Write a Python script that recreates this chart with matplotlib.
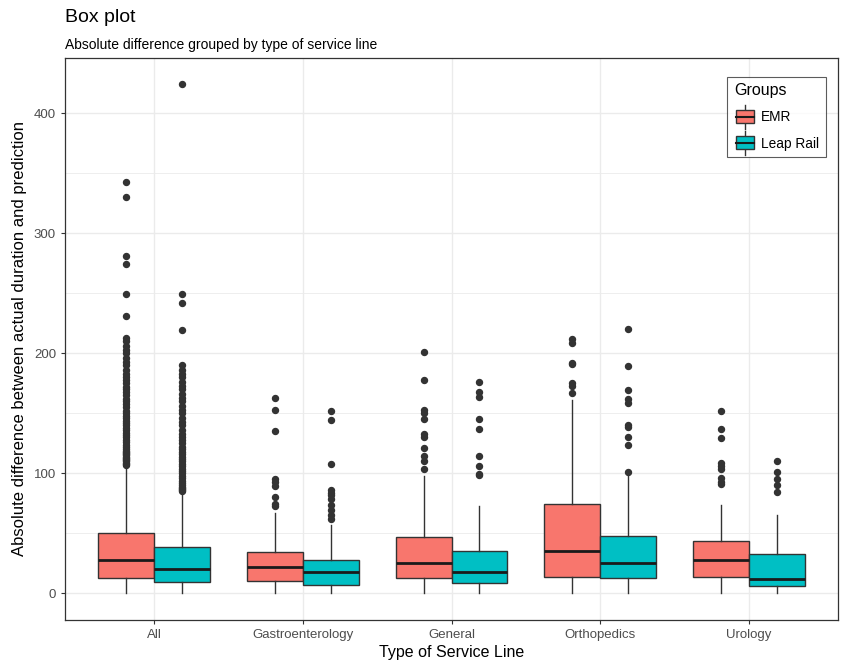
import matplotlib
matplotlib.use("Agg")
import matplotlib.pyplot as plt
from matplotlib.patches import Rectangle
from matplotlib.lines import Line2D
from matplotlib.legend_handler import HandlerBase

plt.rcParams['font.family'] = ['Liberation Sans', 'DejaVu Sans']

categories = ["All", "Gastroenterology", "General", "Orthopedics", "Urology"]
groups = ["EMR", "Leap Rail"]
colors = ["#F8766D", "#00BFC4"]

# per category: (whislo, q1, med, q3, whishi)
emr_stats = [
    (0, 12.5, 27.8, 50.0, 106),
    (0, 10.5, 21.9, 34.7, 67),
    (0, 12.5, 25.5, 47.2, 98),
    (0, 13.3, 35.5, 74.2, 161),
    (0, 13.3, 27.5, 43.6, 74),
]
leap_stats = [
    (0, 9.2, 20.2, 38.3, 84),
    (0, 7.2, 17.5, 27.5, 57),
    (0, 8.3, 17.8, 35.5, 73),
    (0, 13.0, 25.5, 47.8, 100),
    (0, 6.3, 12.2, 32.8, 65),
]
emr_fliers = [
    [107, 108, 109, 110, 111, 112, 113, 114, 115, 116, 117, 118, 119, 120, 122, 124,
     126, 128, 130, 132, 134, 136, 138, 140, 142, 144, 146, 148, 150, 152, 155, 158,
     160, 162, 165, 168, 170, 172, 175, 178, 180, 183, 186, 190, 193, 196, 200, 203,
     206, 210, 213, 231, 249, 274, 281, 330, 343],
    [72.7, 74.4, 80.5, 89.4, 93, 95.5, 135.5, 153, 163],
    [104, 110.5, 114.4, 121.4, 130, 132.8, 145, 150, 152.8, 178, 201.3],
    [166.7, 172.8, 175.5, 191, 192.2, 208.3, 211.7],
    [90.8, 93, 95.8, 103.3, 106, 108.8, 129.4, 137.2, 151.7],
]
leap_fliers = [
    [85, 86, 87, 88, 89, 90, 92, 94, 96, 98, 100, 102, 104, 106, 108, 110, 112, 114,
     116, 118, 120, 122, 125, 128, 130, 133, 136, 140, 143, 146, 150, 153, 156, 160,
     163, 166, 170, 173, 176, 180, 183, 186, 190, 219, 242, 249, 424],
    [62, 65, 69.4, 73.6, 79, 82, 84, 86, 108, 144.4, 152],
    [98.6, 99.6, 106.3, 114.4, 136.6, 145.3, 163.3, 168, 176.3],
    [101.3, 123.3, 130, 138.3, 140, 158.9, 161.6, 169.4, 189, 220],
    [84.7, 90.3, 95.5, 101, 110],
]

W, H = 843, 664
fig = plt.figure(figsize=(W / 100, H / 100), dpi=100)
ax = fig.add_axes([65 / W, 1 - 620 / H, (838 - 65) / W, (620 - 58) / H])

edge = "#333333"
for g, (stats_list, fl_list) in enumerate([(emr_stats, emr_fliers), (leap_stats, leap_fliers)]):
    bstats = []
    for (lo, q1, med, q3, hi), fl in zip(stats_list, fl_list):
        bstats.append(dict(whislo=lo, q1=q1, med=med, q3=q3, whishi=hi, fliers=fl))
    offset = -0.1875 if g == 0 else 0.1875
    pos = [i + 1 + offset for i in range(len(categories))]
    ax.bxp(bstats, positions=pos, widths=0.375, patch_artist=True,
           showcaps=False, manage_ticks=False,
           boxprops=dict(facecolor=colors[g], edgecolor=edge, linewidth=1.0),
           medianprops=dict(color="#1a1a1a", linewidth=2.0),
           whiskerprops=dict(color=edge, linewidth=1.0),
           flierprops=dict(marker='o', markerfacecolor=edge, markeredgecolor=edge,
                           markersize=4.3, linestyle='none'),
           zorder=3)

ax.set_xlim(0.4, 5.6)
ax.set_ylim(-22.2, 446)
ax.set_xticks(range(1, len(categories) + 1))
ax.set_xticklabels(categories)
ax.set_yticks([0, 100, 200, 300, 400])
ax.set_yticks([50, 150, 250, 350], minor=True)
ax.grid(True, which='major', color="#EBEBEB", linewidth=1.0, zorder=0)
ax.grid(True, which='minor', axis='y', color="#EBEBEB", linewidth=0.6, zorder=0)
ax.set_axisbelow(True)
ax.tick_params(axis='both', which='major', colors="#333333", labelcolor="#4D4D4D",
               labelsize=9.5, length=3, width=0.8)
ax.tick_params(axis='y', which='minor', length=0)
for s in ax.spines.values():
    s.set_color("#333333")
    s.set_linewidth(0.9)

ax.set_xlabel("Type of Service Line", fontsize=11.5, labelpad=3)
ax.set_ylabel("Absolute difference between actual duration and prediction", fontsize=12, labelpad=5)

fig.text(65 / W, 1 - 18 / H, "Box plot", fontsize=14, va='center', ha='left')
fig.text(65 / W, 1 - 45 / H, "Absolute difference grouped by type of service line",
         fontsize=10, va='center', ha='left')


class BoxHandler(HandlerBase):
    def __init__(self, color):
        super().__init__()
        self.color = color

    def create_artists(self, legend, orig_handle, xdescent, ydescent, width, height, fontsize, trans):
        cx = width / 2 - xdescent
        bx0 = -xdescent + width * 0.1
        bw = width * 0.8
        by0 = -ydescent + height * 0.05
        bh = height * 0.95
        top = -ydescent + height * 1.35
        bot = -ydescent - height * 0.35
        l1 = Line2D([cx, cx], [bot, top], color=edge, linewidth=1.0, transform=trans)
        r = Rectangle((bx0, by0), bw, bh, facecolor=self.color, edgecolor=edge,
                      linewidth=1.0, transform=trans)
        l2 = Line2D([bx0, bx0 + bw], [by0 + bh / 2] * 2, color="#1a1a1a", linewidth=1.5,
                    transform=trans)
        return [l1, r, l2]


h1 = Rectangle((0, 0), 1, 1)
h2 = Rectangle((0, 0), 1, 1)
leg = ax.legend([h1, h2], groups, title="Groups", loc='upper right',
                bbox_to_anchor=(0.9845, 0.967), borderaxespad=0,
                handler_map={h1: BoxHandler(colors[0]), h2: BoxHandler(colors[1])},
                fontsize=9.8, title_fontsize=11.5, fancybox=False, frameon=True,
                handlelength=1.6, handleheight=1.2, labelspacing=0.85,
                borderpad=0.5, handletextpad=0.4)
leg.get_frame().set_edgecolor("#333333")
leg.get_frame().set_linewidth(0.8)
leg._legend_box.align = "left"

fig.savefig("out.png", dpi=100)
